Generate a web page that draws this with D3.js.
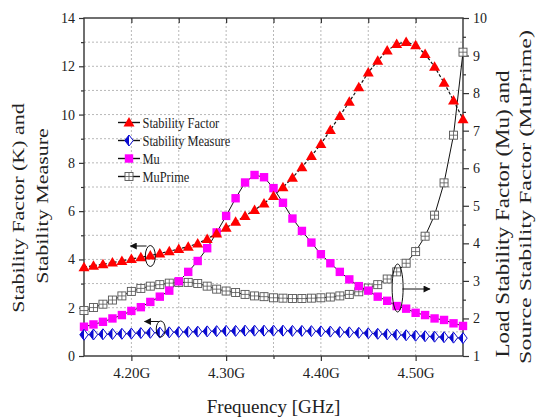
<!DOCTYPE html>
<html>
<head>
<meta charset="utf-8">
<script src="https://cdn.jsdelivr.net/npm/d3@7"></script>
<style>
  html, body { margin: 0; padding: 0; background: #fff; }
  svg { display: block; font-family: "Liberation Serif", "Times New Roman", serif; }
  text { font-family: "Liberation Serif", "Times New Roman", serif; fill: #222; }
</style>
</head>
<body>
<svg id="chart" width="536" height="419"></svg>
<script>
// Frequency sweep (GHz)
const freq = [4.15, 4.16, 4.17, 4.18, 4.19, 4.20, 4.21, 4.22, 4.23, 4.24,
              4.25, 4.26, 4.27, 4.28, 4.29, 4.30, 4.31, 4.32, 4.33, 4.34,
              4.35, 4.36, 4.37, 4.38, 4.39, 4.40, 4.41, 4.42, 4.43, 4.44,
              4.45, 4.46, 4.47, 4.48, 4.49, 4.50, 4.51, 4.52, 4.53, 4.54, 4.55];

// Stability factor K (left axis)
const stabilityFactor = [3.68, 3.74, 3.80, 3.87, 3.94, 4.02, 4.09, 4.16, 4.25, 4.34,
                         4.43, 4.53, 4.66, 4.85, 5.07, 5.31, 5.56, 5.80, 6.05, 6.32,
                         6.63, 6.99, 7.38, 7.82, 8.28, 8.78, 9.36, 9.94, 10.53, 11.13,
                         11.74, 12.23, 12.65, 12.92, 13.01, 12.87, 12.51, 11.98, 11.32, 10.58, 9.81];

// Stability measure (left axis)
const stabilityMeasure = [0.88, 0.89, 0.90, 0.91, 0.92, 0.93, 0.95, 0.96, 0.97, 0.98,
                          0.99, 1.00, 1.01, 1.02, 1.03, 1.04, 1.04, 1.05, 1.05, 1.05,
                          1.05, 1.05, 1.04, 1.04, 1.03, 1.02, 1.01, 0.99, 0.98, 0.96,
                          0.94, 0.92, 0.90, 0.88, 0.86, 0.84, 0.82, 0.80, 0.78, 0.76, 0.74];

// Load stability factor Mu (right axis)
const mu = [1.78, 1.84, 1.91, 2.00, 2.09, 2.20, 2.30, 2.44, 2.58, 2.74,
            2.99, 3.24, 3.53, 3.87, 4.29, 4.73, 5.20, 5.62, 5.82, 5.76,
            5.47, 5.08, 4.66, 4.33, 4.02, 3.71, 3.47, 3.24, 3.04, 2.86,
            2.74, 2.58, 2.47, 2.33, 2.26, 2.15, 2.09, 2.00, 1.96, 1.87, 1.80];

// Source stability factor MuPrime (right axis)
const muPrime = [2.21, 2.29, 2.38, 2.49, 2.60, 2.72, 2.80, 2.86, 2.90, 2.94,
                 2.96, 2.96, 2.93, 2.86, 2.78, 2.73, 2.69, 2.64, 2.60, 2.58,
                 2.55, 2.54, 2.53, 2.53, 2.54, 2.55, 2.57, 2.60, 2.64, 2.71,
                 2.81, 2.90, 3.05, 3.24, 3.47, 3.78, 4.19, 4.75, 5.61, 6.88, 9.09];

// Tick values and labels
const xMajorTicks = [4.20, 4.30, 4.40, 4.50];
const xTickLabels = ["4.20G", "4.30G", "4.40G", "4.50G"];
const xMinorTicks = [4.25, 4.35, 4.45];
const xGridTicks = [4.20, 4.25, 4.30, 4.35, 4.40, 4.45, 4.50];
const leftTicks = [0, 2, 4, 6, 8, 10, 12, 14];
const leftMinorTicks = [1, 3, 5, 7, 9, 11, 13];
const yGridTicks = [1, 2, 3, 4, 5, 6, 7, 8, 9, 10, 11, 12, 13];
const rightTicks = [1, 2, 3, 4, 5, 6, 7, 8, 9, 10];
const rightMinorTicks = [1.5, 2.5, 3.5, 4.5, 5.5, 6.5, 7.5, 8.5, 9.5];

const legendLabels = ["Stability Factor", "Stability Measure", "Mu", "MuPrime"];

const svg = d3.select("#chart");
const L = 84, R = 463, T = 18, B = 356;

const x = d3.scaleLinear().domain([4.15, 4.55]).range([L, R]);
const yL = d3.scaleLinear().domain([0, 14]).range([B, T]);
const yR = d3.scaleLinear().domain([1, 10]).range([B, T]);

// Dotted grid
const grid = svg.append("g").attr("stroke", "#b8b8b8").attr("stroke-width", 1)
  .attr("stroke-dasharray", "2,2").attr("fill", "none");
xGridTicks.forEach(v => grid.append("line").attr("x1", x(v)).attr("x2", x(v)).attr("y1", T).attr("y2", B));
yGridTicks.forEach(v => grid.append("line").attr("x1", L).attr("x2", R).attr("y1", yL(v)).attr("y2", yL(v)));

// Axes
function styleAxis(g) {
  g.attr("font-family", null);
  g.select(".domain").remove();
  g.selectAll(".tick line").attr("stroke", "#333").attr("stroke-width", 1.2);
  g.selectAll("text").attr("fill", "#222").style("font-family", "'Liberation Serif', 'Times New Roman', serif");
}

svg.append("g").attr("transform", `translate(0,${B})`)
  .call(d3.axisBottom(x).tickValues(xMajorTicks).tickSize(5).tickPadding(6)
    .tickFormat((d, i) => xTickLabels[i]))
  .call(styleAxis)
  .selectAll("text").style("font-size", "15px");
svg.append("g").attr("transform", `translate(0,${B})`)
  .call(d3.axisBottom(x).tickValues(xMinorTicks).tickSize(3).tickFormat(""))
  .call(styleAxis);
svg.append("g").attr("transform", `translate(0,${T})`)
  .call(d3.axisTop(x).tickValues(xGridTicks).tickSize(-5).tickFormat(""))
  .call(styleAxis);

svg.append("g").attr("transform", `translate(${L},0)`)
  .call(d3.axisLeft(yL).tickValues(leftTicks).tickSize(5).tickPadding(4))
  .call(styleAxis)
  .selectAll("text").style("font-size", "14px");
svg.append("g").attr("transform", `translate(${L},0)`)
  .call(d3.axisLeft(yL).tickValues(leftMinorTicks).tickSize(3).tickFormat(""))
  .call(styleAxis);

svg.append("g").attr("transform", `translate(${R},0)`)
  .call(d3.axisRight(yR).tickValues(rightTicks).tickSize(6).tickPadding(4))
  .call(styleAxis)
  .selectAll("text").style("font-size", "14px");
svg.append("g").attr("transform", `translate(${R},0)`)
  .call(d3.axisRight(yR).tickValues(rightMinorTicks).tickSize(3).tickFormat(""))
  .call(styleAxis);

// Frame
svg.append("rect").attr("x", L).attr("y", T).attr("width", R - L).attr("height", B - T)
  .attr("fill", "none").attr("stroke", "#333").attr("stroke-width", 1.4);

// Marker painters
const red = "#ff0000", blue = "#0a0ad2", magenta = "#ff00ff";
function triangle(g, cx, cy) {
  g.append("path").attr("d", `M${cx},${cy - 5.5} L${cx + 5.5},${cy + 4} L${cx - 5.5},${cy + 4} Z`)
    .attr("fill", red);
}
function halfDiamond(g, cx, cy) {
  g.append("path").attr("d", `M${cx},${cy - 5.5} L${cx + 4.2},${cy} L${cx},${cy + 5.5} L${cx - 4.2},${cy} Z`)
    .attr("fill", "#fff").attr("stroke", blue).attr("stroke-width", 1);
  g.append("path").attr("d", `M${cx},${cy - 5.5} L${cx - 4.2},${cy} L${cx},${cy + 5.5} Z`)
    .attr("fill", blue);
}
function square(g, cx, cy) {
  g.append("rect").attr("x", cx - 4.2).attr("y", cy - 4.2).attr("width", 8.4).attr("height", 8.4)
    .attr("fill", magenta);
}
function crossSquare(g, cx, cy) {
  g.append("rect").attr("x", cx - 4).attr("y", cy - 4).attr("width", 8).attr("height", 8)
    .attr("fill", "#fff").attr("stroke", "#555").attr("stroke-width", 0.9);
  g.append("path").attr("d", `M${cx - 4},${cy} H${cx + 4} M${cx},${cy - 4} V${cy + 4}`)
    .attr("stroke", "#555").attr("stroke-width", 0.8);
}

const plot = svg.append("g");

// Series lines
const lineL = vals => d3.line().x((d, i) => x(freq[i])).y(d => yL(d))(vals);
const lineR = vals => d3.line().x((d, i) => x(freq[i])).y(d => yR(d))(vals);

plot.append("path").attr("d", lineR(muPrime)).attr("fill", "none").attr("stroke", "#111").attr("stroke-width", 1);
plot.append("path").attr("d", lineR(mu)).attr("fill", "none").attr("stroke", "#111").attr("stroke-width", 1);
plot.append("path").attr("d", lineL(stabilityMeasure)).attr("fill", "none").attr("stroke", "#111").attr("stroke-width", 1);
plot.append("path").attr("d", lineL(stabilityFactor)).attr("fill", "none").attr("stroke", "#111")
  .attr("stroke-width", 1.2).attr("stroke-dasharray", "3,2");

// Series markers
const gMuP = plot.append("g"), gMu = plot.append("g"), gSM = plot.append("g"), gSF = plot.append("g");
muPrime.forEach((v, i) => crossSquare(gMuP, x(freq[i]), yR(v)));
mu.forEach((v, i) => square(gMu, x(freq[i]), yR(v)));
stabilityMeasure.forEach((v, i) => halfDiamond(gSM, x(freq[i]), yL(v)));
stabilityFactor.forEach((v, i) => triangle(gSF, x(freq[i]), yL(v)));

// Legend
const painters = [triangle, halfDiamond, square, crossSquare];
const legend = svg.append("g");
legendLabels.forEach((lab, i) => {
  const y = 122.5 + i * 18;
  legend.append("line").attr("x1", 118).attr("x2", 140).attr("y1", y).attr("y2", y)
    .attr("stroke", "#111").attr("stroke-width", 1.4);
  painters[i](legend, 129, y);
  legend.append("text").attr("transform", `translate(142.5,${y + 5}) scale(0.8,1)`)
    .style("font-size", "15.5px").text(lab);
});

// Annotations: ellipses with arrows pointing to each series' axis
const defs = svg.append("defs");
defs.append("marker").attr("id", "arrowhead").attr("viewBox", "0 0 10 10")
  .attr("refX", 9).attr("refY", 5).attr("markerWidth", 9).attr("markerHeight", 7)
  .attr("markerUnits", "userSpaceOnUse").attr("orient", "auto")
  .append("path").attr("d", "M0,0 L10,5 L0,10 Z").attr("fill", "#111");

const notes = svg.append("g").attr("fill", "none").attr("stroke", "#111").attr("stroke-width", 1);
notes.append("ellipse").attr("cx", x(4.220)).attr("cy", 256).attr("rx", 5).attr("ry", 10.5);
notes.append("line").attr("x1", x(4.216)).attr("y1", 246).attr("x2", x(4.199)).attr("y2", 246)
  .attr("marker-end", "url(#arrowhead)");
notes.append("ellipse").attr("cx", x(4.231)).attr("cy", 329).attr("rx", 4.5).attr("ry", 8);
notes.append("line").attr("x1", x(4.229)).attr("y1", 321.5).attr("x2", x(4.214)).attr("y2", 321.5)
  .attr("marker-end", "url(#arrowhead)");
notes.append("ellipse").attr("cx", x(4.481)).attr("cy", 288).attr("rx", 5.5).attr("ry", 24);
notes.append("line").attr("x1", x(4.486)).attr("y1", 289).attr("x2", x(4.515)).attr("y2", 289)
  .attr("marker-end", "url(#arrowhead)");

// Axis titles
svg.append("text").attr("transform", `translate(${(L + R) / 2},413)`)
  .attr("text-anchor", "middle").style("font-size", "19px").text("Frequency [GHz]");

svg.append("text").attr("transform", "translate(18,208) rotate(-90) scale(1,0.8)")
  .attr("text-anchor", "middle").attr("dy", "0.35em").style("font-size", "22px")
  .text("Stability Factor (K) and");
svg.append("text").attr("transform", "translate(42,206) rotate(-90) scale(1,0.8)")
  .attr("text-anchor", "middle").attr("dy", "0.35em").style("font-size", "22px")
  .text("Stability Measure");

svg.append("text").attr("transform", "translate(503,214) rotate(-90) scale(1,0.78)")
  .attr("text-anchor", "middle").attr("dy", "0.35em").style("font-size", "23px")
  .text("Load Stability Factor (Mu) and");
svg.append("text").attr("transform", "translate(525,197) rotate(-90) scale(1,0.72)")
  .attr("text-anchor", "middle").attr("dy", "0.33em").style("font-size", "24px")
  .text("Source Stability Factor (MuPrime)");
</script>
</body>
</html>
